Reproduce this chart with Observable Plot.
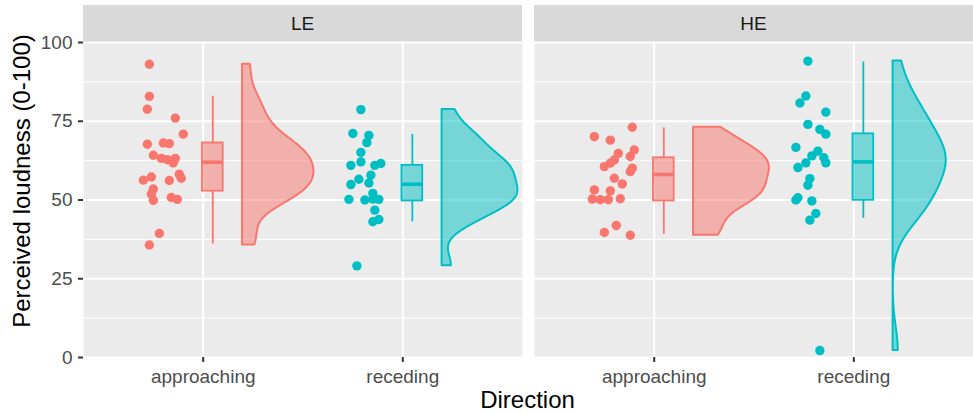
<!DOCTYPE html>
<html><head><meta charset="utf-8">
<script src="https://cdn.jsdelivr.net/npm/d3@7"></script>
<script src="https://cdn.jsdelivr.net/npm/@observablehq/plot@0.6"></script>
<style>
body{margin:0;background:#fff;}
svg{font-family:"Liberation Sans",Arial,sans-serif;}
</style>
</head><body><div id="chart"></div>
<script>
const conditions = ["LE", "HE"];
const directions = ["approaching", "receding"];
const colors = ["#F8766D", "#00BFC4"];
const yTicks = [0, 25, 50, 75, 100];
const yMinor = [12.5, 37.5, 62.5, 87.5];
const xTitle = "Direction";
const yTitle = "Perceived loudness (0-100)";

// Individual responses (value) and their jitter offset (category units)
const LE_approaching = [93.1, 82.9, 78.8, 76.0, 70.9, 67.7, 68.1, 67.9, 64.2, 63.2, 62.8, 63.2, 61.8, 58.2, 56.9, 57.3, 56.3, 56.2, 53.5, 51.9, 49.9, 50.8, 50.2, 39.4, 35.7];
const LE_approaching_jitter = [-0.27, -0.27, -0.28, -0.14, -0.10, -0.28, -0.20, -0.17, -0.25, -0.21, -0.18, -0.14, -0.15, -0.12, -0.11, -0.26, -0.30, -0.17, -0.25, -0.26, -0.25, -0.16, -0.13, -0.22, -0.27];
const LE_receding = [78.7, 71.1, 70.5, 68.2, 65.1, 62.1, 61.0, 61.0, 61.6, 57.9, 56.6, 55.4, 54.9, 52.1, 50.2, 50.0, 50.3, 50.2, 46.8, 43.8, 43.1, 29.1];
const LE_receding_jitter = [-0.21, -0.25, -0.17, -0.18, -0.21, -0.21, -0.26, -0.14, -0.11, -0.16, -0.22, -0.17, -0.26, -0.15, -0.27, -0.19, -0.15, -0.12, -0.14, -0.12, -0.15, -0.23];
const HE_approaching = [73.1, 70.1, 69.0, 65.9, 64.8, 63.8, 62.7, 61.7, 60.6, 60.1, 59.0, 56.9, 55.1, 53.2, 52.9, 50.3, 50.1, 50.1, 50.4, 39.7, 41.9, 38.8];
const HE_approaching_jitter = [-0.11, -0.30, -0.22, -0.10, -0.18, -0.12, -0.20, -0.22, -0.25, -0.11, -0.12, -0.20, -0.16, -0.30, -0.22, -0.31, -0.27, -0.23, -0.17, -0.25, -0.19, -0.12];
const HE_receding = [94.1, 83.0, 80.8, 77.9, 74.0, 72.4, 70.9, 66.7, 65.5, 64.0, 63.4, 61.8, 61.8, 60.3, 56.8, 54.7, 50.7, 50.0, 49.7, 45.7, 43.6, 2.2];
const HE_receding_jitter = [-0.23, -0.24, -0.27, -0.14, -0.23, -0.17, -0.14, -0.29, -0.18, -0.21, -0.15, -0.14, -0.24, -0.28, -0.22, -0.23, -0.28, -0.29, -0.21, -0.19, -0.22, -0.17];

// Boxplot statistics (order: LE-approaching, LE-receding, HE-approaching, HE-receding)
const boxCond = ["LE", "LE", "HE", "HE"];
const boxDir = ["approaching", "receding", "approaching", "receding"];
const boxLower = [36.0, 43.1, 39.1, 44.2];
const boxQ1 = [52.8, 49.7, 49.7, 49.9];
const boxMedian = [62.0, 55.0, 58.1, 62.1];
const boxQ3 = [68.1, 61.0, 63.4, 71.0];
const boxUpper = [82.9, 70.8, 72.9, 93.8];

// layout constants (category units)
const BOX_C = 0.048, BOX_H = 0.052, VIO_BASE = 0.197, VIO_W = 0.38;

const groups = [
  {cond: "LE", dir: "approaching", vals: LE_approaching, jit: LE_approaching_jitter},
  {cond: "LE", dir: "receding", vals: LE_receding, jit: LE_receding_jitter},
  {cond: "HE", dir: "approaching", vals: HE_approaching, jit: HE_approaching_jitter},
  {cond: "HE", dir: "receding", vals: HE_receding, jit: HE_receding_jitter}
];

const points = [];
groups.forEach(g => g.vals.forEach((v, i) => points.push({cond: g.cond, dir: g.dir, xi: directions.indexOf(g.dir) + 1, value: v, jit: g.jit[i]})));

// half-violin: gaussian KDE with Silverman (nrd0) bandwidth, trimmed to data range
function kde(vals) {
  const s = vals.slice().sort(d3.ascending);
  const n = s.length;
  const sd = d3.deviation(s);
  const iqr = d3.quantile(s, 0.75) - d3.quantile(s, 0.25);
  const bw = 0.9 * Math.min(sd, iqr / 1.34) * Math.pow(n, -0.2);
  const lo = s[0], hi = s[n - 1];
  const out = [];
  const m = 256;
  for (let k = 0; k < m; k++) {
    const y = lo + (hi - lo) * k / (m - 1);
    let dsum = 0;
    for (const v of s) { const z = (y - v) / bw; dsum += Math.exp(-0.5 * z * z); }
    out.push({y, d: dsum / (n * bw * Math.sqrt(2 * Math.PI))});
  }
  return out;
}
const violin = [];
conditions.forEach(c => {
  const gs = groups.filter(g => g.cond === c).map(g => ({g, dens: kde(g.vals)}));
  const maxD = d3.max(gs, o => d3.max(o.dens, p => p.d));
  gs.forEach(o => {
    const xi = directions.indexOf(o.g.dir) + 1;
    o.dens.forEach(p => violin.push({cond: c, dir: o.g.dir, group: c + o.g.dir, y: p.y,
      x0: xi + VIO_BASE, x1: xi + VIO_BASE + VIO_W * p.d / maxD}));
  });
});

const boxes = boxCond.map((c, i) => ({cond: c, dir: boxDir[i], xi: directions.indexOf(boxDir[i]) + 1,
  lo: boxLower[i], q1: boxQ1[i], med: boxMedian[i], q3: boxQ3[i], hi: boxUpper[i]}));

const W = 973, H = 413, ML = 82, MR = 0, MT = 42, MB = 56;

const plot = Plot.plot({
  width: W, height: H,
  marginTop: MT, marginBottom: MB, marginLeft: ML, marginRight: MR,
  style: {fontFamily: '"Liberation Sans", Arial, sans-serif', fontSize: "19px", background: "white", overflow: "visible"},
  fx: {domain: conditions, paddingInner: 0.027, paddingOuter: 0, axis: null, label: null},
  x: {domain: [0.4, 2.6], axis: null},
  y: {domain: [0, 100], axis: null},
  color: {domain: directions, range: colors},
  marks: [
    Plot.frame({fill: "#EBEBEB", stroke: null}),
    Plot.gridY(yMinor, {stroke: "white", strokeOpacity: 1, strokeWidth: 1}),
    Plot.gridY(yTicks, {stroke: "white", strokeOpacity: 1, strokeWidth: 2}),
    Plot.gridX([1, 2], {stroke: "white", strokeOpacity: 1, strokeWidth: 2}),
    Plot.axisY(yTicks, {tickSize: 5, tickPadding: 6, stroke: "#333333", fill: "#4D4D4D", label: null, strokeWidth: 2}),
    Plot.axisX([1, 2], {tickSize: 5, tickPadding: 7, tickFormat: d => directions[d - 1], stroke: "#333333", fill: "#4D4D4D", label: null, strokeWidth: 2}),
    Plot.areaX(violin, {fx: "cond", y: "y", x1: "x0", x2: "x1", z: "group", fill: "dir", fillOpacity: 0.5, stroke: "dir", strokeWidth: 2}),
    Plot.ruleX(boxes, {fx: "cond", x: d => d.xi + BOX_C, y1: "lo", y2: "q1", stroke: "dir", strokeWidth: 1.8}),
    Plot.ruleX(boxes, {fx: "cond", x: d => d.xi + BOX_C, y1: "q3", y2: "hi", stroke: "dir", strokeWidth: 1.8}),
    Plot.rect(boxes, {fx: "cond", x1: d => d.xi + BOX_C - BOX_H, x2: d => d.xi + BOX_C + BOX_H, y1: "q1", y2: "q3", fill: "dir", fillOpacity: 0.5, stroke: "dir", strokeWidth: 1.8}),
    Plot.ruleY(boxes, {fx: "cond", y: "med", x1: d => d.xi + BOX_C - BOX_H, x2: d => d.xi + BOX_C + BOX_H, stroke: "dir", strokeWidth: 3.6}),
    Plot.dot(points, {fx: "cond", x: d => d.xi + d.jit, y: "value", fill: "dir", r: 4.7})
  ]
});

const svg = d3.select(plot);
const fx = plot.scale("fx");
const bw = fx.bandwidth;
const strips = svg.append("g");
conditions.forEach(c => {
  const x0 = fx.apply(c);
  strips.append("rect").attr("x", x0).attr("y", 5).attr("width", bw).attr("height", MT - 5.5).attr("fill", "#D9D9D9");
  strips.append("text").attr("x", x0 + bw / 2).attr("y", 5 + (MT - 5.5) / 2).attr("dy", "0.35em")
    .attr("text-anchor", "middle").attr("fill", "#1A1A1A").style("font-size", "19px").text(c);
});
svg.append("text").attr("x", (ML + W - MR) / 2).attr("y", 408).attr("text-anchor", "middle")
  .attr("fill", "black").style("font-size", "24px").text(xTitle);
svg.append("text").attr("transform", `translate(30,${(5 + H - MB) / 2}) rotate(-90)`).attr("text-anchor", "middle")
  .attr("fill", "black").style("font-size", "24px").text(yTitle);

document.getElementById("chart").appendChild(plot);
</script>
</body></html>
